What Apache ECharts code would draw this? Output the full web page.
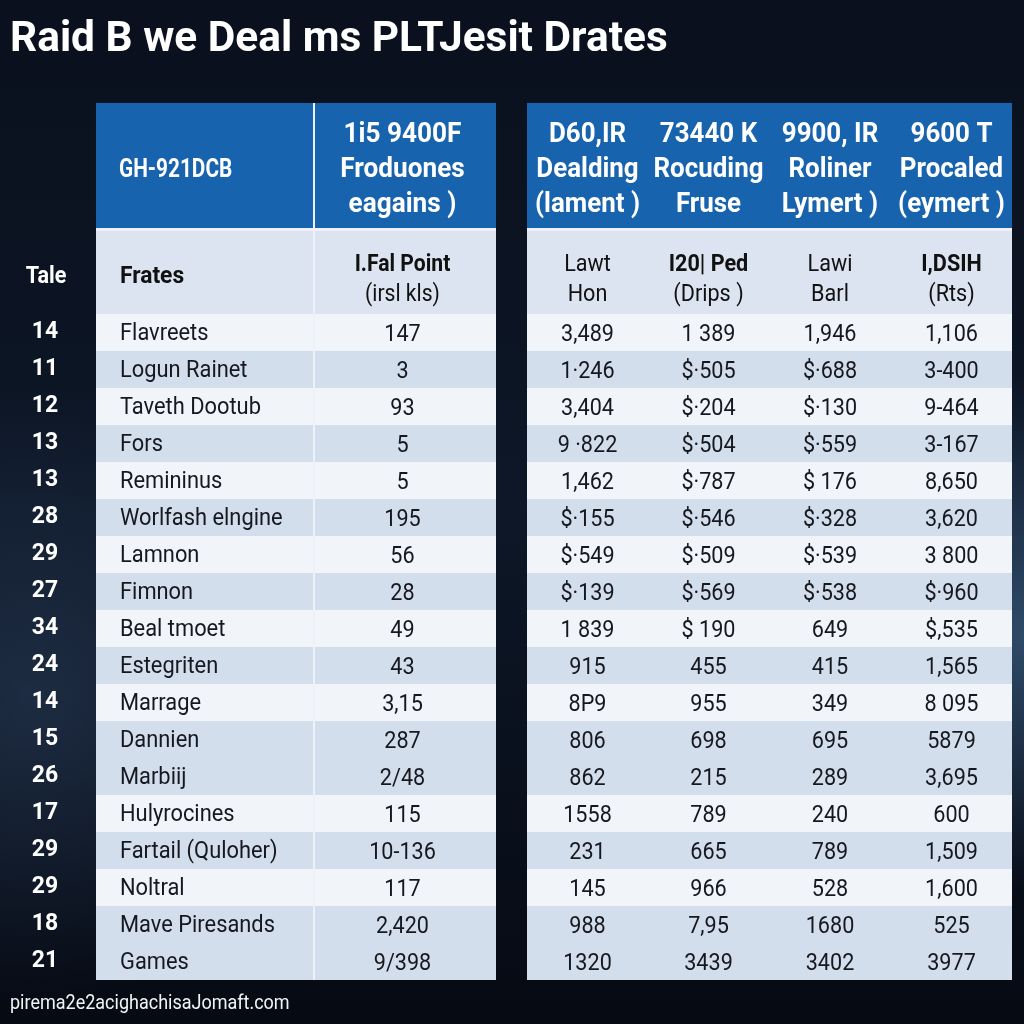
<!DOCTYPE html>
<html><head><meta charset="utf-8">
<script src="https://cdn.jsdelivr.net/npm/echarts@6/dist/echarts.min.js"></script>
<style>html,body{margin:0;padding:0;background:#080d19}#c{width:1024px;height:1024px}</style>
</head><body><div id="c"></div>
<script>
// ---- data ----
const title = 'Raid B we Deal ms PLTJesit Drates';
const footer = 'pirema2e2acighachisaJomaft.com';
const cornerLabel = 'Tale';
const rowNums = ['14','11','12','13','13','28','29','27','34','24','14','15','26','17','29','29','18','21'];
const names = ['Flavreets','Logun Rainet','Taveth Dootub','Fors','Remininus','Worlfash elngine','Lamnon','Fimnon','Beal tmoet','Estegriten','Marrage','Dannien','Marbiij','Hulyrocines','Fartail (Quloher)','Noltral','Mave Piresands','Games'];
const colPoint = ['147','3','93','5','5','195','56','28','49','43','3,15','287','2/48','115','10-136','117','2,420','9/398'];
const colDealing = ['3,489','1·246','3,404','9 ·822','1,462','$·155','$·549','$·139','1 839','915','8P9','806','862','1558','231','145','988','1320'];
const colRocuding = ['1 389','$·505','$·204','$·504','$·787','$·546','$·509','$·569','$ 190','455','955','698','215','789','665','966','7,95','3439'];
const colRoliner = ['1,946','$·688','$·130','$·559','$ 176','$·328','$·539','$·538','649','415','349','695','289','240','789','528','1680','3402'];
const colProcaled = ['1,106','3-400','9-464','3-167','8,650','3,620','3 800','$·960','$,535','1,565','8 095','5879','3,695','600','1,509','1,600','525','3977'];
const headName = 'GH-921DCB';
const headPoint = ['1i5 9400F','Froduones','eagains )'];
const headRight = [['D60,IR','Dealding','(lament )'],['73440 K','Rocuding','Fruse'],['9900, IR','Roliner','Lymert )'],['9600 T','Procaled','(eymert )']];
const subName = 'Frates';
const subPoint = ['I.Fal Point','(irsl kls)'];
const subRight = [['Lawt','Hon'],['I20| Ped','(Drips )'],['Lawi','Barl'],['I,DSIH','(Rts)']];

// ---- layout / style ----
const FONT = "'Roboto',sans-serif";
const GL = 96, GT = 314, GB = 980, GR = 1012;
const colEdges = [[0,217],[219,400],[431,552],[552,673],[673,795],[795,916]];
const subBold = [false,true,false,true];
const rowShade = [0,1,0,1,0,1,0,1,0,1,0,1,1,0,1,0,1,1];

const columns = [names, colPoint, colDealing, colRocuding, colRoliner, colProcaled];
const cells = [];
columns.forEach((col, c) => col.forEach((t, r) => cells.push({c, r, t})));

const chart = echarts.init(document.getElementById('c'), null, {renderer:'canvas'});

function txt(text, x, y, align, font, fill, sx){
  return {type:'text', x:x, y:y, scaleX:sx||1, style:{text:text, x:0, y:0, align:align, verticalAlign:'middle', fill:fill, font:font}};
}

const g = [];
// background
g.push({type:'rect', z:-20, shape:{x:0,y:0,width:1024,height:1024},
  style:{fill:new echarts.graphic.LinearGradient(0,0,0,1,[{offset:0,color:'#0a101d'},{offset:0.5,color:'#0d1727'},{offset:1,color:'#060a13'}])}});
g.push({type:'rect', z:-19, shape:{x:0,y:0,width:1024,height:1024},
  style:{fill:new echarts.graphic.RadialGradient(0.03,0.68,0.3,[{offset:0,color:'rgba(45,65,95,0.55)'},{offset:1,color:'rgba(45,65,95,0)'}])}});
g.push({type:'rect', z:-19, shape:{x:0,y:0,width:1024,height:1024},
  style:{fill:new echarts.graphic.RadialGradient(1,0.62,0.25,[{offset:0,color:'rgba(70,110,150,0.6)'},{offset:1,color:'rgba(70,110,150,0)'}])}});
// title, footer, corner
g.push(txt(title, 10, 40, 'left', "bold 42px "+FONT, '#ffffff', 1.01));
g.push(txt(footer, 10, 1004, 'left', "20px "+FONT, '#f2f4f8', 0.9));
g.push(txt(cornerLabel, 46, 277, 'center', "bold 24px "+FONT, '#ffffff', 0.9));

// table backings & headers
function colX(c){ return [GL+colEdges[c][0], GL+colEdges[c][1]]; }
const leftBox = [GL, GL+colEdges[1][1]], rightBox = [GL+colEdges[2][0], GR];
[leftBox, rightBox].forEach(b => {
  g.push({type:'rect', z:-5, shape:{x:b[0], y:103, width:b[1]-b[0], height:GB-103}, style:{fill:'#eef2f8'}});
});
[[colX(0)[0], colX(0)[1]], [colX(1)[0], colX(1)[1]], rightBox].forEach(b => {
  g.push({type:'rect', z:-4, shape:{x:b[0], y:103, width:b[1]-b[0], height:125}, style:{fill:'#1763ad'}});
  g.push({type:'rect', z:-4, shape:{x:b[0], y:231, width:b[1]-b[0], height:GT-231}, style:{fill:'#dbe4f0'}});
});
const hl = [135, 170, 205];
g.push(txt(headName, GL+23, 170, 'left', "bold 26px "+FONT, '#fff', 0.8));
headPoint.forEach((t,i) => {
  const x = (colX(1)[0]+colX(1)[1])/2 - 3;
  g.push(txt(t, x, hl[i], 'center', "bold 27px "+FONT, '#fff', 0.97));
});
headRight.forEach((lines, k) => {
  const x = (colX(k+2)[0]+colX(k+2)[1])/2;
  lines.forEach((t,i) => g.push(txt(t, x, hl[i], 'center', "bold 27px "+FONT, '#fff', 0.96)));
});
g.push(txt(subName, GL+24, 277, 'left', "bold 24px "+FONT, '#111', 0.95));
subPoint.forEach((t,i) => {
  const x = (colX(1)[0]+colX(1)[1])/2 - 3;
  g.push(txt(t, x, [265,295][i], 'center', (i===0?'bold ':'')+"24px "+FONT, '#111', 0.88));
});
subRight.forEach((lines,k) => {
  const x = (colX(k+2)[0]+colX(k+2)[1])/2;
  lines.forEach((t,i) => g.push(txt(t, x, [265,295][i], 'center', ((i===0&&subBold[k])?'bold ':'')+"24px "+FONT, '#111', 0.9)));
});

chart.setOption({
  animation:false,
  graphic:{elements:g},
  grid:{left:GL, top:GT, right:1024-GR, bottom:1024-GB, outerBoundsMode:'none', containLabel:false},
  xAxis:{type:'value', min:0, max:916, show:false},
  yAxis:{type:'category', inverse:true, data:rowNums,
    axisLine:{show:false}, axisTick:{show:false}, splitLine:{show:false},
    axisLabel:{color:'#ffffff', fontWeight:'bold', fontSize:23, fontFamily:FONT, align:'center', margin:51, padding:[4,0,0,0]}},
  series:[{
    type:'custom', clip:false,
    data: cells.map(o => [(colEdges[o.c][0]+colEdges[o.c][1])/2, o.r]),
    encode:{x:0, y:1},
    renderItem:function(params, api){
      const cell = cells[params.dataIndex];
      const r = api.value(1);
      const e = colEdges[cell.c];
      const a = api.coord([e[0], r]);
      const b = api.coord([e[1], r]);
      const h = api.size([0,1])[1];
      const left = cell.c === 0;
      const tx = left ? a[0]+24 : (a[0]+b[0])/2 - (cell.c===1?3:0);
      return {type:'group', children:[
        {type:'rect', shape:{x:a[0], y:a[1]-h/2, width:b[0]-a[0], height:h}, style:{fill: rowShade[r] ? '#d3deec' : '#f1f4f9'}},
        {type:'text', x:tx, y:a[1]+2, scaleX: left ? 0.95 : 0.9,
          style:{text:cell.t, x:0, y:0, align: left?'left':'center', verticalAlign:'middle', fill:'#16181f', font:(left?'23px ':'24px ')+FONT}}
      ]};
    }
  }]
});
</script></body></html>
